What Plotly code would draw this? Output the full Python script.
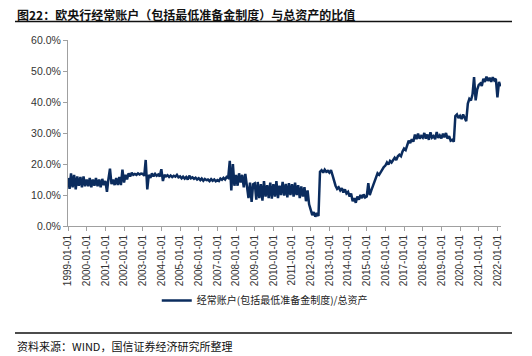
import pandas as pd
import plotly.graph_objects as go

# Monthly ratio (%) of ECB current accounts (incl. minimum reserves) to total assets
v1999 = [15.5, 12.0, 17.0, 12.5, 16.5, 11.8, 16.0, 13.0, 15.8, 12.5, 16.0, 12.8]
v2000 = [15.0, 12.8, 15.5, 12.5, 15.0, 13.0, 15.5, 12.8, 15.0, 12.5, 15.2, 13.2]
v2001 = [14.5, 11.0, 15.0, 18.5, 13.5, 15.0, 13.2, 15.5, 13.2, 15.8, 13.2, 18.2]
v2002 = [14.0, 16.5, 15.0, 17.0, 16.0, 17.2, 16.5, 16.8, 16.5, 17.0, 16.6, 16.9]
v2003 = [16.8, 16.2, 21.3, 11.8, 16.5, 15.5, 17.0, 16.0, 16.8, 16.2, 16.6, 16.0]
v2004 = [18.3, 14.5, 16.5, 16.0, 16.4, 15.8, 16.3, 15.8, 16.2, 15.9, 16.5, 15.7]
v2005 = [16.0, 15.4, 15.9, 15.3, 15.8, 15.0, 16.2, 15.4, 15.7, 15.2, 15.6, 15.0]
v2006 = [15.4, 14.8, 15.3, 14.6, 15.2, 14.8, 15.0, 14.5, 15.1, 14.6, 15.0, 14.4]
v2007 = [14.8, 14.5, 15.3, 14.9, 15.5, 15.0, 15.8, 15.5, 21.0, 11.5, 20.0, 13.0]
v2008 = [16.5, 13.0, 17.0, 14.0, 16.5, 12.5, 16.8, 13.5, 9.0, 14.0, 7.8, 13.5]
v2009 = [13.8, 8.5, 14.2, 9.0, 13.5, 8.2, 14.5, 9.5, 13.2, 9.0, 14.0, 8.8]
v2010 = [13.5, 9.5, 14.5, 9.0, 13.0, 10.0, 14.2, 9.8, 13.6, 9.2, 13.8, 10.0]
v2011 = [13.5, 9.5, 14.0, 10.0, 13.2, 9.0, 12.8, 9.5, 12.5, 8.0, 11.5, 7.0]
v2012 = [5.5, 3.5, 4.5, 3.0, 4.2, 3.2, 17.5, 18.0, 17.2, 18.2, 17.5, 17.8]
v2013 = [17.2, 18.0, 16.5, 14.5, 13.0, 12.0, 12.5, 11.5, 12.2, 10.8, 11.8, 10.5]
v2014 = [11.0, 9.5, 10.5, 8.0, 9.0, 7.5, 9.5, 8.5, 10.0, 9.0, 10.2, 9.2]
v2015 = [9.5, 13.8, 10.0, 11.5, 13.0, 14.5, 15.5, 17.0, 16.5, 17.5, 18.0, 19.0]
v2016 = [19.5, 20.5, 19.8, 21.0, 20.5, 21.5, 22.0, 21.3, 22.5, 23.0, 22.5, 24.0]
v2017 = [25.0, 24.5, 26.0, 27.5, 26.8, 28.0, 27.2, 29.5, 28.0, 29.8, 28.2, 29.0]
v2018 = [28.5, 30.0, 28.2, 29.5, 27.8, 30.2, 28.5, 29.0, 28.0, 30.3, 28.4, 29.2]
v2019 = [28.3, 29.8, 28.6, 30.0, 28.2, 29.0, 27.5, 27.8, 27.2, 35.5, 36.0, 34.8]
v2020 = [35.5, 34.5, 36.0, 35.0, 33.8, 39.5, 41.0, 40.5, 42.5, 48.0, 40.5, 44.0]
v2021 = [45.5, 46.0, 45.2, 47.5, 46.5, 48.2, 46.8, 47.8, 46.5, 48.0, 47.0, 47.5]
v2022 = [41.5, 46.5, 45.0]

values = (v1999 + v2000 + v2001 + v2002 + v2003 + v2004 + v2005 + v2006 + v2007 + v2008
          + v2009 + v2010 + v2011 + v2012 + v2013 + v2014 + v2015 + v2016 + v2017 + v2018
          + v2019 + v2020 + v2021 + v2022)
dates = pd.date_range("1999-01-01", periods=len(values), freq="MS")

tick_years = list(range(1999, 2023))
tick_vals = [f"{y}-01-01" for y in tick_years]
tick_text = [f"{y}-01-01" for y in tick_years]

series_name = "经常账户(包括最低准备金制度)/总资产"
title_text = "图22：欧央行经常账户（包括最低准备金制度）与总资产的比值"
source_text = "资料来源：WIND，国信证券经济研究所整理"

line_color = "#0b2c5e"
cjk = "Noto Sans CJK SC"
latin = "Liberation Sans, Arial, sans-serif"

fig = go.Figure()
fig.add_trace(go.Scatter(x=dates, y=values, mode="lines", name=series_name,
                         line=dict(color=line_color, width=2.5)))

fig.update_layout(
    width=524, height=348,
    margin=dict(l=60, r=31, t=32, b=130),
    paper_bgcolor="white", plot_bgcolor="white",
    showlegend=True,
    legend=dict(orientation="h", x=0.205, xanchor="left", y=-0.40, yanchor="middle",
                font=dict(family=cjk, size=10, color="#222"), bgcolor="rgba(0,0,0,0)"),
    xaxis=dict(type="date", range=["1999-01-01", "2022-03-12"],
               tickmode="array", tickvals=tick_vals, ticktext=tick_text, tickangle=-90,
               showline=True, linecolor="#a0a0a0", linewidth=1,
               ticks="outside", ticklen=4, tickcolor="#a0a0a0",
               showgrid=False, zeroline=False,
               tickfont=dict(family=latin, size=10, color="#333")),
    yaxis=dict(range=[0, 60], tickvals=[0, 10, 20, 30, 40, 50, 60],
               ticktext=["0.0%", "10.0%", "20.0%", "30.0%", "40.0%", "50.0%", "60.0%"],
               showline=True, linecolor="#a0a0a0", linewidth=1,
               ticks="outside", ticklen=4, tickcolor="#a0a0a0",
               showgrid=False, zeroline=False,
               tickfont=dict(family=latin, size=10.5, color="#333")),
)

fig.add_annotation(text=title_text, xref="paper", yref="paper", x=-0.1224, y=1.138,
                   xanchor="left", yanchor="middle", showarrow=False,
                   font=dict(family=cjk, size=12, color="#111", weight="bold"))
fig.add_annotation(text=source_text, xref="paper", yref="paper", x=-0.1224, y=-0.645,
                   xanchor="left", yanchor="middle", showarrow=False,
                   font=dict(family=cjk, size=11, color="#111"))
fig.add_shape(type="line", xref="paper", yref="paper", x0=-0.1224, x1=1.0254, y0=1.0995, y1=1.0995,
              line=dict(color="#111", width=1.5))
fig.add_shape(type="line", xref="paper", yref="paper", x0=-0.1224, x1=1.0254, y0=-0.575, y1=-0.575,
              line=dict(color="#111", width=1.5))

fig.write_html("out.html")
